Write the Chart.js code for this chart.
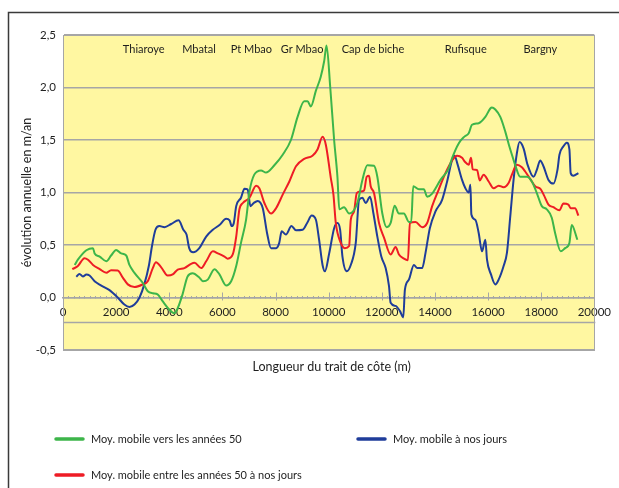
<!DOCTYPE html>
<html>
<head>
<meta charset="utf-8">
<script src="https://cdn.jsdelivr.net/npm/chart.js@4/dist/chart.umd.min.js"></script>
<style>
  html, body { margin: 0; padding: 0; background: #fff; }
  #wrap { width: 619px; height: 488px; position: relative; }
</style>
</head>
<body>
<div id="wrap"><canvas id="c" width="619" height="488"></canvas></div>
<script>
// Distance along the shoreline (m) and annual change (m/an) for each moving average
const greenX = [440, 560, 880, 1130, 1190, 1380, 1630, 1810, 2000, 2190, 2380, 2500, 2690, 3000, 3190, 3380, 3560, 3750, 4000, 4190, 4320, 4500, 4690, 4880, 5130, 5265, 5450, 5700, 5890, 6140, 6330, 6520, 6700, 6890, 7020, 7200, 7455, 7640, 7955, 8270, 8580, 8830, 9080, 9205, 9330, 9520, 9700, 9830, 9920, 10060, 10206, 10330, 10400, 10580, 10770, 11080, 11270, 11456, 11707, 11832, 12020, 12183, 12333, 12483, 12645, 12833, 13020, 13108, 13183, 13396, 13583, 13708, 13896, 14210, 14520, 14650, 14900, 15100, 15272, 15397, 15647, 15898, 16085, 16146, 16273, 16461, 16648, 16800, 16898, 17023, 17210, 17460, 17648, 17835, 18023, 18210, 18398, 18523, 18735, 18900, 19062, 19148, 19362];
const greenY = [0.31, 0.36, 0.45, 0.47, 0.42, 0.39, 0.345, 0.40, 0.453, 0.42, 0.40, 0.31, 0.235, 0.14, 0.06, 0.04, 0.03, -0.035, -0.115, -0.15, -0.10, 0.03, 0.20, 0.23, 0.19, 0.155, 0.17, 0.27, 0.22, 0.115, 0.155, 0.30, 0.52, 0.74, 1.01, 1.17, 1.21, 1.19, 1.26, 1.36, 1.50, 1.72, 1.87, 1.87, 1.82, 1.97, 2.10, 2.25, 2.40, 2.00, 1.50, 1.15, 0.84, 0.86, 0.80, 0.90, 1.12, 1.26, 1.255, 1.15, 0.80, 0.67, 0.71, 0.875, 0.80, 0.80, 0.72, 0.72, 1.06, 1.03, 1.03, 0.96, 0.99, 1.12, 1.23, 1.33, 1.47, 1.53, 1.565, 1.645, 1.66, 1.72, 1.80, 1.81, 1.79, 1.72, 1.58, 1.44, 1.36, 1.26, 1.15, 1.15, 1.105, 0.995, 0.87, 0.84, 0.76, 0.615, 0.44, 0.47, 0.52, 0.69, 0.55];

const redX = [350, 560, 810, 940, 1130, 1380, 1630, 1810, 2060, 2250, 2440, 2690, 3000, 3190, 3380, 3500, 3690, 3940, 4130, 4320, 4570, 4820, 4950, 5200, 5390, 5640, 5830, 6080, 6200, 6390, 6520, 6640, 6770, 7020, 7270, 7390, 7580, 7830, 8020, 8270, 8520, 8770, 9080, 9390, 9580, 9770, 9893, 10080, 10180, 10268, 10457, 10607, 10770, 10832, 10957, 11057, 11207, 11332, 11432, 11519, 11582, 11707, 11895, 12083, 12333, 12520, 12645, 12833, 12983, 13058, 13270, 13521, 13708, 13896, 14146, 14396, 14646, 14834, 15021, 15120, 15272, 15360, 15422, 15585, 15685, 15835, 16023, 16210, 16398, 16585, 16773, 16898, 17085, 17273, 17398, 17585, 17773, 17985, 18110, 18273, 18460, 18685, 18837, 19024, 19110, 19274, 19400];
const redY = [0.27, 0.30, 0.375, 0.36, 0.31, 0.27, 0.235, 0.26, 0.257, 0.19, 0.125, 0.10, 0.125, 0.155, 0.28, 0.335, 0.29, 0.21, 0.22, 0.266, 0.28, 0.32, 0.33, 0.28, 0.345, 0.44, 0.42, 0.39, 0.37, 0.41, 0.58, 0.84, 0.90, 0.95, 1.065, 1.04, 0.90, 0.80, 0.85, 0.98, 1.105, 1.25, 1.32, 1.35, 1.41, 1.53, 1.455, 1.14, 0.98, 0.71, 0.52, 0.47, 0.49, 0.74, 0.82, 0.995, 1.01, 1.02, 1.15, 1.16, 1.06, 0.995, 0.71, 0.57, 0.41, 0.48, 0.41, 0.37, 0.355, 0.71, 0.72, 0.67, 0.71, 0.87, 1.03, 1.185, 1.305, 1.35, 1.33, 1.295, 1.265, 1.33, 1.22, 1.215, 1.115, 1.17, 1.105, 1.04, 1.065, 1.05, 1.09, 1.17, 1.265, 1.24, 1.20, 1.13, 1.06, 1.03, 0.97, 0.885, 0.86, 0.83, 0.895, 0.885, 0.85, 0.85, 0.78];

const blueX = [500, 620, 750, 880, 1000, 1190, 1440, 1750, 2060, 2310, 2500, 2690, 2880, 3060, 3230, 3350, 3480, 3630, 3820, 4070, 4350, 4530, 4650, 4750, 4900, 5130, 5390, 5640, 5890, 6140, 6270, 6350, 6430, 6520, 6700, 6830, 6950, 7055, 7180, 7330, 7520, 7680, 7830, 8020, 8140, 8230, 8390, 8600, 8770, 9020, 9200, 9360, 9520, 9640, 9770, 9860, 10020, 10206, 10330, 10432, 10519, 10682, 10832, 11020, 11144, 11270, 11394, 11557, 11682, 11832, 11982, 12145, 12270, 12333, 12520, 12683, 12808, 12870, 13020, 13208, 13333, 13521, 13646, 13808, 14021, 14271, 14459, 14646, 14740, 14850, 15021, 15147, 15272, 15335, 15372, 15522, 15647, 15772, 15897, 15960, 16110, 16273, 16398, 16585, 16710, 16835, 16960, 17085, 17186, 17336, 17486, 17711, 17835, 17962, 18086, 18274, 18462, 18612, 18687, 18837, 18962, 19062, 19110, 19212, 19400];
const blueY = [0.197, 0.225, 0.20, 0.22, 0.21, 0.155, 0.114, 0.07, 0.0, -0.067, -0.09, -0.067, 0.0, 0.125, 0.30, 0.49, 0.645, 0.68, 0.67, 0.70, 0.735, 0.645, 0.60, 0.47, 0.43, 0.47, 0.58, 0.645, 0.69, 0.75, 0.735, 0.68, 0.71, 0.87, 0.95, 1.035, 1.03, 0.87, 0.90, 0.92, 0.85, 0.615, 0.47, 0.47, 0.52, 0.63, 0.60, 0.68, 0.64, 0.645, 0.715, 0.78, 0.74, 0.55, 0.31, 0.25, 0.42, 0.66, 0.71, 0.645, 0.39, 0.25, 0.31, 0.52, 0.93, 0.95, 0.90, 0.96, 0.805, 0.58, 0.39, 0.28, 0.11, -0.05, -0.08, -0.13, -0.19, 0.076, 0.17, 0.31, 0.28, 0.28, 0.425, 0.66, 0.82, 0.93, 1.105, 1.31, 1.35, 1.27, 1.12, 1.04, 1.00, 1.075, 0.79, 0.74, 0.615, 0.44, 0.55, 0.36, 0.22, 0.125, 0.17, 0.30, 0.425, 0.77, 1.12, 1.375, 1.48, 1.42, 1.265, 1.15, 1.215, 1.305, 1.25, 1.12, 1.085, 1.215, 1.36, 1.44, 1.475, 1.41, 1.185, 1.16, 1.185];

// Place names along the coast, placed at their distance (m)
const placeNames = ['Thiaroye', 'Mbatal', 'Pt Mbao', 'Gr Mbao', 'Cap de biche', 'Rufisque', 'Bargny'];
const placeX = [3040, 5120, 7090, 9000, 11670, 15160, 17970];
const placeLevel = 2.36;

// Axis settings
const xMin = 0, xMax = 20000, xStep = 2000, xMinorStep = 200;
const yMin = -0.5, yMax = 2.5, yStep = 0.5;
const lowerRuleValue = -0.23;

const seriesLabels = [
  'Moy. mobile vers les années 50',
  'Moy. mobile entre les années 50 à nos jours',
  'Moy. mobile à nos jours'
];
const seriesColors = ['#3db54a', '#ee1c25', '#1f3d9a'];

const toPoints = (xs, ys) => xs.map((x, i) => ({ x: x, y: ys[i] }));

const FONT = 'Lato, "Open Sans", sans-serif';
const TEXT = '#1e1e1e';
const GRID = '#a6a6a6';

const decorations = {
  id: 'decorations',
  beforeDraw(chart) {
    const { ctx, chartArea: a } = chart;
    ctx.save();
    ctx.fillStyle = '#ffffff';
    ctx.fillRect(0, 0, chart.width, chart.height);
    // outer frame
    ctx.strokeStyle = '#3a3a3a';
    ctx.lineWidth = 1.5;
    ctx.beginPath();
    ctx.moveTo(8.5, chart.height + 2);
    ctx.lineTo(8.5, 12.5);
    ctx.lineTo(chart.width + 2, 12.5);
    ctx.stroke();
    // plot background
    ctx.fillStyle = '#fff7a1';
    ctx.fillRect(a.left, a.top, a.right - a.left, a.bottom - a.top);
    ctx.restore();
  },
  beforeDatasetsDraw(chart) {
    const { ctx, chartArea: a, scales: { x, y } } = chart;
    ctx.save();
    ctx.strokeStyle = GRID;
    ctx.lineWidth = 1;
    // plot frame
    ctx.strokeRect(Math.round(a.left) + 0.5, Math.round(a.top) + 0.5,
      Math.round(a.right - a.left), Math.round(a.bottom - a.top));
    // lower rule
    const ly = Math.round(y.getPixelForValue(lowerRuleValue)) + 0.5;
    ctx.lineWidth = 1.5;
    ctx.beginPath();
    ctx.moveTo(a.left, ly);
    ctx.lineTo(a.right + 1, ly);
    ctx.stroke();
    // tick marks on the zero axis
    const y0 = Math.round(y.getPixelForValue(0)) + 0.5;
    ctx.lineWidth = 1;
    ctx.beginPath();
    for (let v = xMin; v <= xMax; v += xMinorStep) {
      const px = Math.round(x.getPixelForValue(v)) + 0.5;
      if (v % xStep === 0) {
        ctx.moveTo(px, y0 - 6);
        ctx.lineTo(px, y0 + 2);
      } else {
        ctx.moveTo(px, y0 - 2.5);
        ctx.lineTo(px, y0);
      }
    }
    ctx.stroke();
    ctx.restore();
  },
  afterDraw(chart) {
    const { ctx, chartArea: a, scales: { x, y } } = chart;
    ctx.save();
    ctx.fillStyle = TEXT;
    ctx.font = '11px ' + FONT;
    ctx.textAlign = 'center';
    ctx.textBaseline = 'middle';
    placeNames.forEach((name, i) => {
      ctx.fillText(name, x.getPixelForValue(placeX[i]), y.getPixelForValue(placeLevel));
    });
    // axis titles
    ctx.font = '12.5px ' + FONT;
    ctx.fillText('Longueur du trait de côte (m)', (a.left + a.right) / 2 + 3, 367);
    ctx.save();
    ctx.translate(27, (a.top + a.bottom) / 2);
    ctx.rotate(-Math.PI / 2);
    ctx.fillText('évolution annuelle en m/an', 0, 0);
    ctx.restore();
    // legend
    const items = [
      { ds: 0, x: 54, y: 439 },
      { ds: 2, x: 356, y: 439 },
      { ds: 1, x: 54, y: 475 }
    ];
    ctx.textAlign = 'left';
    ctx.font = '11px ' + FONT;
    items.forEach(it => {
      const ds = chart.data.datasets[it.ds];
      ctx.strokeStyle = ds.borderColor;
      ctx.lineWidth = 3.5;
      ctx.lineCap = 'round';
      ctx.beginPath();
      ctx.moveTo(it.x + 2, it.y);
      ctx.lineTo(it.x + 29, it.y);
      ctx.stroke();
      ctx.fillStyle = TEXT;
      ctx.fillText(ds.label, it.x + 37, it.y);
    });
    ctx.restore();
  }
};

new Chart(document.getElementById('c'), {
  type: 'line',
  data: {
    datasets: [
      { label: seriesLabels[0], data: toPoints(greenX, greenY), borderColor: seriesColors[0] },
      { label: seriesLabels[1], data: toPoints(redX, redY), borderColor: seriesColors[1] },
      { label: seriesLabels[2], data: toPoints(blueX, blueY), borderColor: seriesColors[2] }
    ]
  },
  options: {
    responsive: false,
    animation: false,
    devicePixelRatio: 1,
    layout: { padding: { top: 35, right: 23, bottom: 138, left: 0 } },
    elements: {
      point: { radius: 0, hoverRadius: 0 },
      line: { borderWidth: 2, cubicInterpolationMode: 'monotone', fill: false }
    },
    plugins: {
      legend: { display: false },
      tooltip: { enabled: false }
    },
    scales: {
      x: {
        type: 'linear',
        position: { y: 0 },
        min: xMin, max: xMax,
        grid: { display: false, drawTicks: false },
        border: { display: true, color: GRID, width: 1.5 },
        ticks: {
          stepSize: xStep,
          padding: 8,
          color: TEXT,
          font: { family: FONT, size: 11.5 },
          maxRotation: 0,
          autoSkip: false,
          callback: v => String(v)
        }
      },
      y: {
        type: 'linear',
        min: yMin, max: yMax,
        afterFit(scale) { scale.width = 63; },
        grid: { color: GRID, lineWidth: 1.5, drawTicks: false },
        border: { display: true, color: GRID, width: 1 },
        ticks: {
          stepSize: yStep,
          padding: 7,
          color: TEXT,
          font: { family: FONT, size: 11.5 },
          callback: v => v.toFixed(1).replace('.', ',')
        }
      }
    }
  },
  plugins: [decorations]
});
</script>
</body>
</html>
